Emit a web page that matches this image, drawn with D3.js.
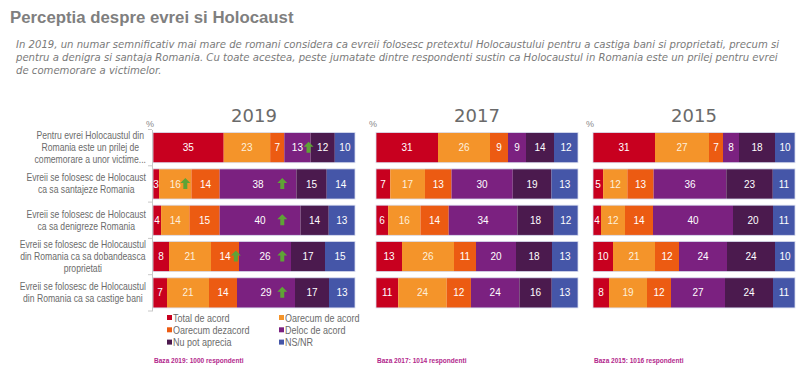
<!DOCTYPE html>
<html>
<head>
<meta charset="utf-8">
<script src="https://cdn.jsdelivr.net/npm/d3@7"></script>
<style>
  body { margin: 0; background: #fff; }
  svg { display: block; }
</style>
</head>
<body>
<div id="chart"></div>
<script>
// chart data
var categories = [
  ["Pentru evrei Holocaustul din", "Romania este un prilej de", "comemorare a unor victime..."],
  ["Evreii se folosesc de Holocaust", "ca sa santajeze Romania"],
  ["Evreii se folosesc de Holocaust", "ca sa denigreze Romania"],
  ["Evreii se folosesc de Holocaustul", "din Romania ca sa dobandeasca", "proprietati"],
  ["Evreii se folosesc de Holocaustul", "din Romania ca sa castige bani"]
];
var answers = ["Total de acord", "Oarecum de acord", "Oarecum dezacord", "Deloc de acord", "Nu pot aprecia", "NS/NR"];
var colors = ["#c8001f", "#f4942a", "#ec5b12", "#7b2180", "#4b1a4e", "#4556a8"];
var years = ["2019", "2017", "2015"];
var bases = ["Baza 2019: 1000 respondenti", "Baza 2017: 1014 respondenti", "Baza 2015: 1016 respondenti"];

var values2019 = [
  [35, 23, 7, 13, 12, 10],
  [3, 16, 14, 38, 15, 14],
  [4, 14, 15, 40, 14, 13],
  [8, 21, 14, 26, 17, 15],
  [7, 21, 14, 29, 17, 13]
];
var values2017 = [
  [31, 26, 9, 9, 14, 12],
  [7, 17, 13, 30, 19, 13],
  [6, 16, 14, 34, 18, 12],
  [13, 26, 11, 20, 18, 13],
  [11, 24, 12, 24, 16, 13]
];
var values2015 = [
  [31, 27, 7, 8, 18, 10],
  [5, 12, 13, 36, 23, 11],
  [4, 12, 14, 40, 20, 11],
  [10, 21, 12, 24, 24, 10],
  [8, 19, 12, 27, 24, 11]
];
// green "increase" arrows in 2019 (row index, position on 0-100 share)
var arrows2019 = [
  {row: 0, at: 77}, {row: 1, at: 16}, {row: 1, at: 64}, {row: 2, at: 64},
  {row: 3, at: 41}, {row: 3, at: 64}, {row: 4, at: 64}
];

var w = 800, h = 377;
var sans = "'Liberation Sans', Arial, sans-serif";
var squeeze = 0.82; // no narrow font installed, so squeeze Arial horizontally

var svg = d3.select("#chart").append("svg")
  .attr("width", w)
  .attr("height", h);

// title
svg.append("text")
  .attr("x", 10)
  .attr("y", 23)
  .style("font-family", sans)
  .style("font-weight", "bold")
  .style("font-size", "16.8px")
  .style("fill", "#7f7f7f")
  .text("Perceptia despre evrei si Holocaust");

var subtitle = [
  "In 2019, un numar semnificativ mai mare de romani considera ca evreii folosesc pretextul Holocaustului pentru a castiga bani si proprietati, precum si",
  "pentru a denigra si santaja Romania. Cu toate acestea, peste jumatate dintre respondenti sustin ca Holocaustul in Romania este un prilej pentru evrei",
  "de comemorare a victimelor."
];
svg.append("g").selectAll("text")
  .data(subtitle)
  .enter()
  .append("text")
  .attr("x", 16)
  .attr("y", function(d, i) { return 48 + i * 12.8; })
  .style("font-family", "'DejaVu Sans', Verdana, sans-serif")
  .style("font-style", "italic")
  .style("font-size", "10.1px")
  .style("fill", "#7a7a7a")
  .text(function(d) { return d; });

var yScale = d3.scaleBand()
  .domain(d3.range(categories.length))
  .range([129.5, 311])
  .paddingInner(0.17)
  .paddingOuter(0.085);

var stack = d3.stack()
  .keys(d3.range(answers.length))
  .value(function(d, k) { return d[k]; })
  .offset(d3.stackOffsetExpand);

var panels = [
  {year: years[0], values: values2019, base: bases[0], x0: 153},
  {year: years[1], values: values2017, base: bases[1], x0: 376},
  {year: years[2], values: values2015, base: bases[2], x0: 593}
];
var barW = 202;

panels.forEach(function(p, pi) {
  var xScale = d3.scaleLinear()
    .domain([0, 1])
    .range([p.x0, p.x0 + barW]);

  var g = svg.append("g");

  // year heading
  g.append("text")
    .attr("x", p.x0 + barW / 2)
    .attr("y", 122)
    .attr("text-anchor", "middle")
    .style("font-family", "'DejaVu Sans', Verdana, sans-serif")
    .style("font-size", "18px")
    .style("fill", "#6a6a6a")
    .text(p.year);

  g.append("text")
    .attr("x", p.x0 - 7)
    .attr("y", 127)
    .style("font-family", sans)
    .style("font-size", "9px")
    .style("fill", "#888")
    .text("%");

  var series = stack(p.values);

  var layer = g.selectAll("g.layer")
    .data(series)
    .enter()
    .append("g")
    .attr("class", "layer")
    .style("fill", function(d, i) { return colors[i]; });

  layer.selectAll("rect")
    .data(function(d) { return d; })
    .enter()
    .append("rect")
    .attr("x", function(d) { return xScale(d[0]); })
    .attr("y", function(d, i) { return yScale(i); })
    .attr("width", function(d) { return xScale(d[1]) - xScale(d[0]); })
    .attr("height", yScale.bandwidth());

  // light outline around each bar
  g.selectAll("rect.outline")
    .data(p.values)
    .enter()
    .append("rect")
    .attr("class", "outline")
    .attr("x", xScale(0))
    .attr("y", function(d, i) { return yScale(i); })
    .attr("width", barW)
    .attr("height", yScale.bandwidth())
    .style("fill", "none")
    .style("stroke", "#d8dcee")
    .style("stroke-width", 0.8);

  // value labels
  series.forEach(function(s, k) {
    g.append("g").selectAll("text")
      .data(s)
      .enter()
      .append("text")
      .attr("x", function(d) { return (xScale(d[0]) + xScale(d[1])) / 2; })
      .attr("y", function(d, i) { return yScale(i) + yScale.bandwidth() / 2 + 3.6; })
      .attr("text-anchor", "middle")
      .style("font-family", sans)
      .style("font-size", "10px")
      .style("fill", k == 1 ? "#fdf0dc" : "#fff")
      .text(function(d) { return d.data[k]; });
  });

  // base note
  g.append("text")
    .attr("transform", "translate(" + (p.x0 + 1) + ",363) scale(" + squeeze + ",1)")
    .style("font-family", sans)
    .style("font-weight", "bold")
    .style("font-size", "8px")
    .style("fill", "#b3288d")
    .text(p.base);

  if (pi == 0) {
    // faint category axis
    var axis = d3.axisLeft(yScale)
      .tickSize(0)
      .tickFormat("");
    var ag = g.append("g")
      .attr("transform", "translate(" + (p.x0 - 1) + ",0)")
      .call(axis);
    ag.select(".domain").attr("stroke", "#c8c8c8");
    // small ticks between categories
    ag.selectAll("line.sep")
      .data(d3.range(categories.length + 1))
      .enter()
      .append("line")
      .attr("class", "sep")
      .attr("x1", -4)
      .attr("x2", 0)
      .attr("y1", function(i) { return yScale.range()[0] + i * yScale.step(); })
      .attr("y2", function(i) { return yScale.range()[0] + i * yScale.step(); })
      .attr("stroke", "#c8c8c8");

    // green arrows
    g.selectAll("path.arrow")
      .data(arrows2019)
      .enter()
      .append("path")
      .attr("class", "arrow")
      .attr("transform", function(d) {
        return "translate(" + xScale(d.at / 100) + "," + (yScale(d.row) + yScale.bandwidth() / 2) + ")";
      })
      .attr("d", "M0,-6 L5,-1 L2,-1 L2,5 L-2,5 L-2,-1 L-5,-1 Z")
      .style("fill", "#5fa336");

    // category labels, centred lines ending near the axis
    var lab = g.selectAll("g.cat")
      .data(categories)
      .enter()
      .append("g")
      .attr("class", "cat");
    lab.each(function(lines, i) {
      var cg = d3.select(this);
      var t = cg.append("text")
        .attr("text-anchor", "middle")
        .style("font-family", sans)
        .style("font-size", "10.5px")
        .style("fill", "#6b6b6b");
      var cy = yScale(i) + yScale.bandwidth() / 2;
      var lh = 12;
      t.selectAll("tspan")
        .data(lines)
        .enter()
        .append("tspan")
        .attr("x", 0)
        .attr("y", function(d, j) { return cy + (j - (lines.length - 1) / 2) * lh + 3.5; })
        .text(function(d) { return d; });
      var maxW = 0;
      t.selectAll("tspan").each(function() {
        maxW = Math.max(maxW, this.getComputedTextLength());
      });
      cg.attr("transform", "translate(" + (146 - squeeze * maxW / 2) + ",0) scale(" + squeeze + ",1)");
    });

    // legend
    var leg = g.selectAll("g.legend")
      .data(answers)
      .enter()
      .append("g")
      .attr("class", "legend")
      .attr("transform", function(d, i) {
        return "translate(" + (p.x0 + 14 + (i % 2) * 112) + "," + (318 + Math.floor(i / 2) * 12.3) + ")";
      });
    leg.append("rect")
      .attr("x", 0)
      .attr("y", -3)
      .attr("width", 5)
      .attr("height", 5)
      .style("fill", function(d, i) { return colors[i]; });
    leg.append("text")
      .attr("transform", "translate(6,3.8) scale(" + squeeze + ",1)")
      .style("font-family", sans)
      .style("font-size", "11px")
      .style("fill", "#6b6b6b")
      .text(function(d) { return d; });
  }
});
</script>
</body>
</html>
